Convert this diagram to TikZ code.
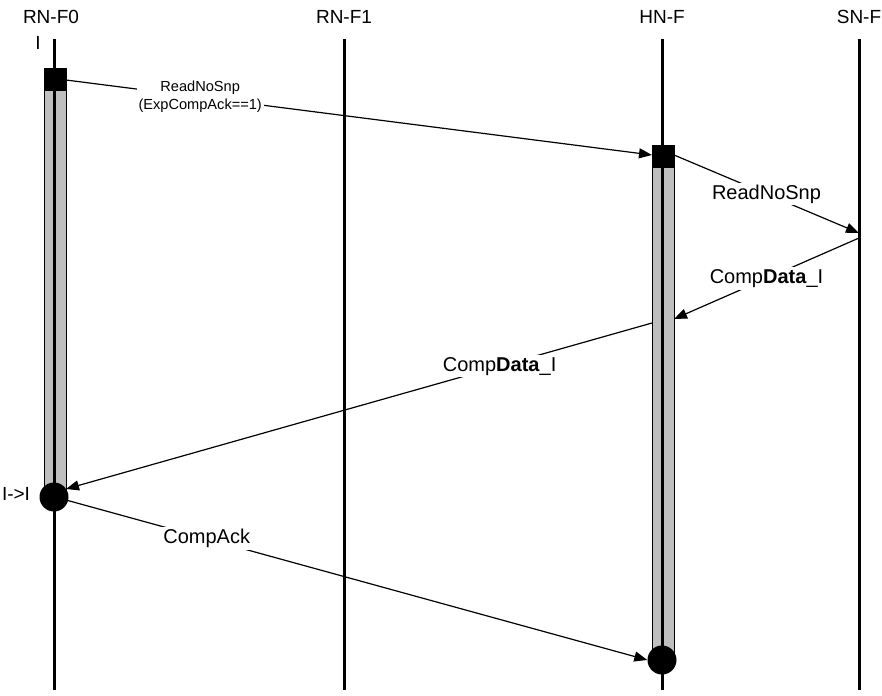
\documentclass[tikz,border=0pt]{standalone}
\usepackage{fontspec}
\setmainfont{Liberation Sans}
\usetikzlibrary{arrows.meta}
\begin{document}
\begin{tikzpicture}[x=1pt,y=-1pt,
  lifeline/.style={line width=3pt},
  actbar/.style={draw=black,line width=1pt,fill=black!25},
  blk/.style={fill=black,draw=black},
  dot/.style={circle,fill=black,minimum size=29pt,inner sep=0pt},
  msg/.style={line width=1.2pt,-{Triangle[length=13pt,width=10pt]}},
  lbl/.style={fill=white,inner sep=2pt,font=\fontsize{20}{22}\selectfont},
  slbl/.style={fill=white,inner sep=2pt,align=center,font=\fontsize{14.6}{18}\selectfont},
  hdr/.style={font=\fontsize{19}{21}\selectfont}]
\useasboundingbox (0,0) rectangle (882,695);
% headers
\node[hdr] (h0) at (51,17) {RN-F0};
\node[hdr] (h1) at (344,17) {RN-F1};
\node[hdr] (h2) at (662,17) {HN-F};
\node[hdr] (h3) at (859,17) {SN-F};
\node[hdr] (st0) at (38,43) {I};
\node[hdr] (st1) at (16,494) {I->I};
% lifeline ends
\coordinate (t0) at (54,39); \coordinate (b0) at (54,690);
\coordinate (t1) at (344,39); \coordinate (b1) at (344,690);
\coordinate (t2) at (662,39); \coordinate (b2) at (662,690);
\coordinate (t3) at (859,39); \coordinate (b3) at (859,690);
% activation bars
\draw[actbar] (44,80) rectangle (66,497);
\draw[actbar] (652,156) rectangle (674,660);
\draw[lifeline] (t0) -- (b0);
\draw[lifeline] (t1) -- (b1);
\draw[lifeline] (t2) -- (b2);
\draw[lifeline] (t3) -- (b3);
\draw[blk] (44,68) rectangle (66,90);
\draw[blk] (652,145) rectangle (674,167);
\node[dot] (c0) at (54,497) {};
\node[dot] (c2) at (662,660) {};
% anchor points
\coordinate (a1s) at (66,80);
\coordinate (a1e) at (652,155);
\coordinate (a2s) at (674,155);
\coordinate (a2e) at (859,233);
\coordinate (a3s) at (859,238);
\coordinate (a3e) at (674,319);
\coordinate (a4s) at (652,323);
\coordinate (a4e) at (66,489);
\coordinate (a5s) at (66,500);
% messages
\draw[msg] (a1s) -- node[slbl,pos=0.229] {ReadNoSnp\\(ExpCompAck==1)} (a1e);
\draw[msg] (a2s) -- node[lbl,pos=0.5] {ReadNoSnp} (a2e);
\draw[msg] (a3s) -- node[lbl,pos=0.5] {Comp\textbf{Data}\_I} (a3e);
\draw[msg] (a4s) -- node[lbl,pos=0.26] {Comp\textbf{Data}\_I} (a4e);
\draw[msg] (a5s) -- node[lbl,pos=0.242] {CompAck} (c2.west);
\end{tikzpicture}
\end{document}
